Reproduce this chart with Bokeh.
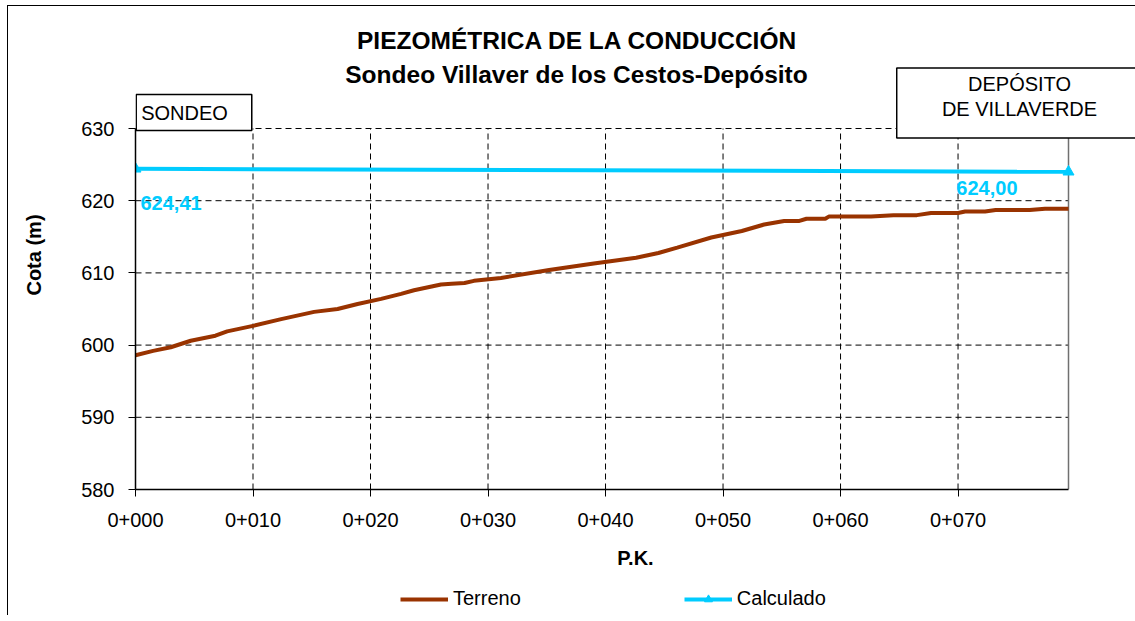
from bokeh.plotting import figure
from bokeh.layouts import column
from bokeh.models import (Range1d, FixedTicker, Label, Legend, LegendItem,
                          ColumnDataSource)
from bokeh.embed import file_html
from bokeh.resources import INLINE

# ---------------- data ----------------
title_1 = "PIEZOMÉTRICA DE LA CONDUCCIÓN"
title_2 = "Sondeo Villaver de los Cestos-Depósito"
start_name = "SONDEO"
end_name = "DEPÓSITO\nDE VILLAVERDE"

pk_terreno = [0, 1.5, 3.0, 4.7, 6.8, 7.8, 10.1, 12.4, 15.2, 17.2, 18.9, 20.9, 22.6,
              23.7, 26.0, 26.9, 28.0, 28.8, 31.1, 35.2, 39.0, 42.6, 44.5, 46.1, 49.0,
              51.6, 53.5, 55.2, 56.5, 57.1, 58.7, 59.0, 62.6, 64.5, 66.5, 67.7, 70.0,
              70.6, 72.3, 73.2, 76.1, 77.4, 79.4]
cota_terreno = [598.6, 599.2, 599.7, 600.6, 601.3, 601.9, 602.7, 603.6, 604.6, 605.0,
                605.7, 606.4, 607.1, 607.6, 608.4, 608.5, 608.6, 608.9, 609.3, 610.4,
                611.3, 612.1, 612.75, 613.5, 614.9, 615.8, 616.7, 617.2, 617.2, 617.5,
                617.5, 617.8, 617.8, 618.0, 618.0, 618.3, 618.3, 618.5, 618.5, 618.7,
                618.7, 618.9, 618.9]

pk_calculado = [0, 79.4]
cota_calculado = [624.41, 624.00]

x_ticks = [0, 10, 20, 30, 40, 50, 60, 70]
x_tick_labels = ["0+000", "0+010", "0+020", "0+030", "0+040", "0+050", "0+060", "0+070"]
y_ticks = [580, 590, 600, 610, 620, 630]
series_names = ["Terreno", "Calculado"]

BROWN = "#993300"
CYAN = "#00CCFF"
FONT = "Liberation Sans"

# ---------------- layout (page pixels) ----------------
OX, OY = 8, 6                  # canvas origin on the page
W = 1127
MAIN_BOTTOM = 579              # page y where the legend strip starts
LEG_BOTTOM = 615
AX_LEFT, AX_RIGHT = 135, 1068  # plot area (axes) in page pixels
AX_TOP, AX_BOTTOM = 128, 489
FR_LEFT = AX_LEFT              # frame extends up/right so titles and boxes are not clipped
FR_TOP = 20
FR_RIGHT = OX + W

x0, x1 = pk_calculado[0], pk_calculado[-1]
y0, y1 = y_ticks[0], y_ticks[-1]
kx = (AX_RIGHT - AX_LEFT) / (x1 - x0)
ky = (AX_BOTTOM - AX_TOP) / (y1 - y0)
x_range = Range1d(x0 - (AX_LEFT - FR_LEFT) / kx, x1 + (FR_RIGHT - AX_RIGHT) / kx)
y_range = Range1d(y0, y1 + (AX_TOP - FR_TOP) / ky)


def fx(px):
    return px - FR_LEFT


def fy(py):
    return AX_BOTTOM - py


p = figure(width=W, height=MAIN_BOTTOM - OY, x_range=x_range, y_range=y_range,
           output_backend="svg", toolbar_location=None,
           min_border_left=FR_LEFT - OX, min_border_right=0,
           min_border_top=FR_TOP - OY, min_border_bottom=MAIN_BOTTOM - AX_BOTTOM)
p.outline_line_color = None
p.background_fill_color = "white"
p.border_fill_color = "white"
p.xgrid.visible = False
p.ygrid.visible = False

# axes
p.xaxis.ticker = FixedTicker(ticks=x_ticks)
p.xaxis.major_label_overrides = {t: l for t, l in zip(x_ticks, x_tick_labels)}
p.xaxis.bounds = (x0, x1)
p.yaxis.ticker = FixedTicker(ticks=y_ticks)
p.yaxis.bounds = (y0, y1)
for ax in (p.xaxis, p.yaxis):
    ax.axis_line_color = "black"
    ax.axis_line_width = 1.5
    ax.major_tick_line_color = "black"
    ax.major_tick_in = 0
    ax.major_tick_out = 7
    ax.minor_tick_line_color = None
    ax.major_label_text_font = FONT
    ax.major_label_text_font_size = "20px"
    ax.major_label_text_color = "black"
    ax.axis_label_text_font = FONT
    ax.axis_label_text_font_size = "20px"
    ax.axis_label_text_font_style = "bold"
    ax.axis_label_text_color = "black"
p.xaxis.axis_label = "P.K."
p.yaxis.axis_label = "Cota (m)"
p.xaxis.major_label_standoff = 16
p.xaxis.axis_label_standoff = 17
p.yaxis.major_label_standoff = 14
p.yaxis.axis_label_standoff = 33
p.yaxis.major_label_orientation = "horizontal"

# dashed grid inside the plot area
gx = x_ticks[1:]
p.segment(x0=gx, y0=[y0] * len(gx), x1=gx, y1=[y1] * len(gx),
          line_color="black", line_dash="6 4", line_width=1)
gy = y_ticks[1:]
p.segment(x0=[x0] * len(gy), y0=gy, x1=[x1] * len(gy), y1=gy,
          line_color="black", line_dash="6 4", line_width=1)
# right edge of plot area
p.segment(x0=[x1], y0=[y0], x1=[x1], y1=[y1], line_color="#707070", line_width=1.5)

# series
terr_style = dict(line_color=BROWN, line_width=4)
calc_style = dict(line_color=CYAN, line_width=4)
mark_style = dict(marker="triangle", size=11, fill_color=CYAN, line_color=CYAN)
p.line(pk_terreno, cota_terreno, **terr_style)
p.line(pk_calculado, cota_calculado, **calc_style)
p.scatter(pk_calculado, cota_calculado, **mark_style)

# data labels
lbl_src = ColumnDataSource(dict(
    x=pk_calculado, y=cota_calculado,
    text=[f"{v:.2f}".replace(".", ",") for v in cota_calculado],
    align=["left", "right"], xo=[5, -51], yo=[34, 16]))
p.text(x="x", y="y", text="text", source=lbl_src, text_align="align",
       text_baseline="middle", x_offset="xo", y_offset="yo",
       text_color=CYAN, text_font_style="bold", text_font_size="20px",
       text_font={"value": FONT})

# titles
p.add_layout(Label(x=fx(577), y=fy(40), x_units="screen", y_units="screen", text=title_1,
                   text_align="center", text_baseline="middle", text_font=FONT,
                   text_font_size="24.5px", text_font_style="bold", text_color="black"))
p.add_layout(Label(x=fx(576), y=fy(73.5), x_units="screen", y_units="screen", text=title_2,
                   text_align="center", text_baseline="middle", text_font=FONT,
                   text_font_size="24.5px", text_font_style="bold", text_color="black"))

# boxes (frame + text)
p.add_layout(Label(x=fx(193.5), y=fy(112), x_units="screen", y_units="screen",
                   text=" ", text_align="center", text_baseline="middle",
                   text_font=FONT, text_font_size="20px",
                   border_line_color="black", border_line_width=1.5,
                   background_fill_color="white",
                   padding=dict(left=55, right=55, top=7, bottom=7)))
p.add_layout(Label(x=fx(184), y=fy(112), x_units="screen", y_units="screen",
                   text=start_name, text_align="center", text_baseline="middle",
                   text_font=FONT, text_font_size="20px", text_color="black"))
p.add_layout(Label(x=fx(1019), y=fy(102.5), x_units="screen", y_units="screen",
                   text=" ", text_align="center", text_baseline="middle",
                   text_font=FONT, text_font_size="20px",
                   border_line_color="black", border_line_width=1.5,
                   background_fill_color="white",
                   padding=dict(left=120, right=120, top=24, bottom=24)))
p.add_layout(Label(x=fx(1019), y=fy(96), x_units="screen", y_units="screen",
                   text=end_name, text_align="center", text_baseline="middle",
                   text_font=FONT, text_font_size="20px", text_color="black",
                   text_line_height=1.17))

# ---------------- legend strip ----------------
lf = figure(width=W, height=LEG_BOTTOM - MAIN_BOTTOM,
            x_range=Range1d(0, 1), y_range=Range1d(0, 1),
            x_axis_type=None, y_axis_type=None,
            output_backend="svg", toolbar_location=None,
            min_border_left=FR_LEFT - OX, min_border_right=0,
            min_border_top=0, min_border_bottom=0, outline_line_color=None)
lf.xgrid.visible = False
lf.ygrid.visible = False
lf.background_fill_color = "white"
lf.border_fill_color = "white"
# same series, outside this strip's view: only their legend glyphs show
l_terr = lf.line(pk_terreno, cota_terreno, **terr_style)
l_calc = lf.line(pk_calculado, cota_calculado, **calc_style)
l_mark = lf.scatter(pk_calculado, cota_calculado, **mark_style)
legend = Legend(items=[LegendItem(label=series_names[0], renderers=[l_terr]),
                       LegendItem(label=series_names[1], renderers=[l_calc, l_mark])],
                orientation="horizontal", location=(400 - FR_LEFT, LEG_BOTTOM - 610),
                padding=0, margin=0, spacing=163,
                glyph_width=48, label_standoff=5,
                border_line_color=None, background_fill_alpha=0,
                label_text_font=FONT, label_text_font_size="20px",
                label_text_color="black")
lf.add_layout(legend)

layout = column(p, lf, spacing=0, margin=(OY - 1, 0, 0, OX - 1),
                styles={"border-left": "1px solid #000", "border-top": "1px solid #000"})

open("out.html", "w").write(file_html(layout, INLINE))
